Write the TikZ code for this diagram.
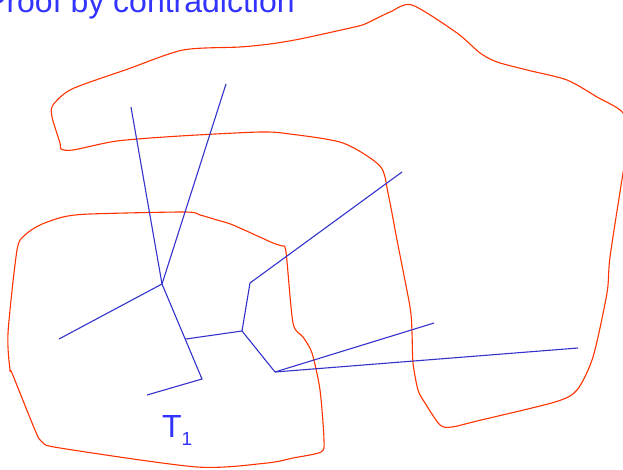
\documentclass[tikz,border=0pt]{standalone}
\usepackage{fontspec}
\setmainfont{Liberation Sans}
\usetikzlibrary{calc}
\definecolor{regionred}{RGB}{255,51,0}
\definecolor{treeblue}{RGB}{51,51,204}
\definecolor{textblue}{RGB}{51,51,255}
\begin{document}
\begin{tikzpicture}[x=1pt,y=-1pt,
  region/.style={draw=regionred,line width=1.1pt,line join=round},
  edge/.style={draw=treeblue,line width=1.1pt},
  label/.style={text=textblue,inner sep=0pt,font=\fontsize{32}{38}\selectfont}]
\useasboundingbox (0,0) rectangle (623,470);
\clip (0,0) rectangle (623,470);

% upper region
\draw[region] plot[smooth cycle,tension=0.45] coordinates {
  (61,149) (73,150) (117,141) (180,136) (260,132) (290,134) (343,143)
  (380,166) (388,193) (397,240) (410,307) (412,333) (413,363) (418,390)
  (425,403) (440,425) (452,427) (477,421) (555,402) (577,390) (593,357)
  (607,293) (610,257) (623,173) (628,143) (623,113) (597,97) (567,80)
  (527,70) (497,62) (480,53) (457,33) (412,5) (390,12) (365,24) (350,28)
  (300,39) (270,44) (240,47) (183,50) (128,69) (72,89) (53,105) (52,117)
  (60,143)};

% lower-left region T1
\draw[region] plot[smooth cycle,tension=0.45] coordinates {
  (17,250) (25,235) (40,225) (63,217) (90,214) (185,212) (200,215)
  (217,220) (233,225) (273,243) (282,246) (286,252) (293,323) (303,337)
  (312,353) (320,390) (324,440) (321,452) (293,458) (267,463) (197,467)
  (60,448) (42,442) (35,430) (12,373) (10,370) (8,333)};

% tree
\coordinate (a) at (162,284);
\coordinate (a1) at (131,107);
\coordinate (a2) at (226,84);
\coordinate (a3) at (59,339);
\coordinate (f) at (202,379);
\coordinate (f1) at (147,395);
\coordinate (b) at ($(a)!0.58!(f)$);
\coordinate (c) at (242,331);
\coordinate (d) at (250,283);
\coordinate (d1) at (402,172);
\coordinate (e) at (275,372);
\coordinate (e1) at (434,323);
\coordinate (e2) at (578,348);

\draw[edge] (a) -- (a1);
\draw[edge] (a) -- (a2);
\draw[edge] (a) -- (a3);
\draw[edge] (a) -- (f) -- (f1);
\draw[edge] (b) -- (c);
\draw[edge] (c) -- (d) -- (d1);
\draw[edge] (c) -- (e);
\draw[edge] (e) -- (e1);
\draw[edge] (e) -- (e2);

% labels
\node[label,anchor=base west] (title) at (-15,13) {Proof by contradiction};
\node[label,anchor=base west] (t1) at (162,437) {T\raisebox{-8pt}{\fontsize{19}{21}\selectfont 1}};
\end{tikzpicture}
\end{document}
